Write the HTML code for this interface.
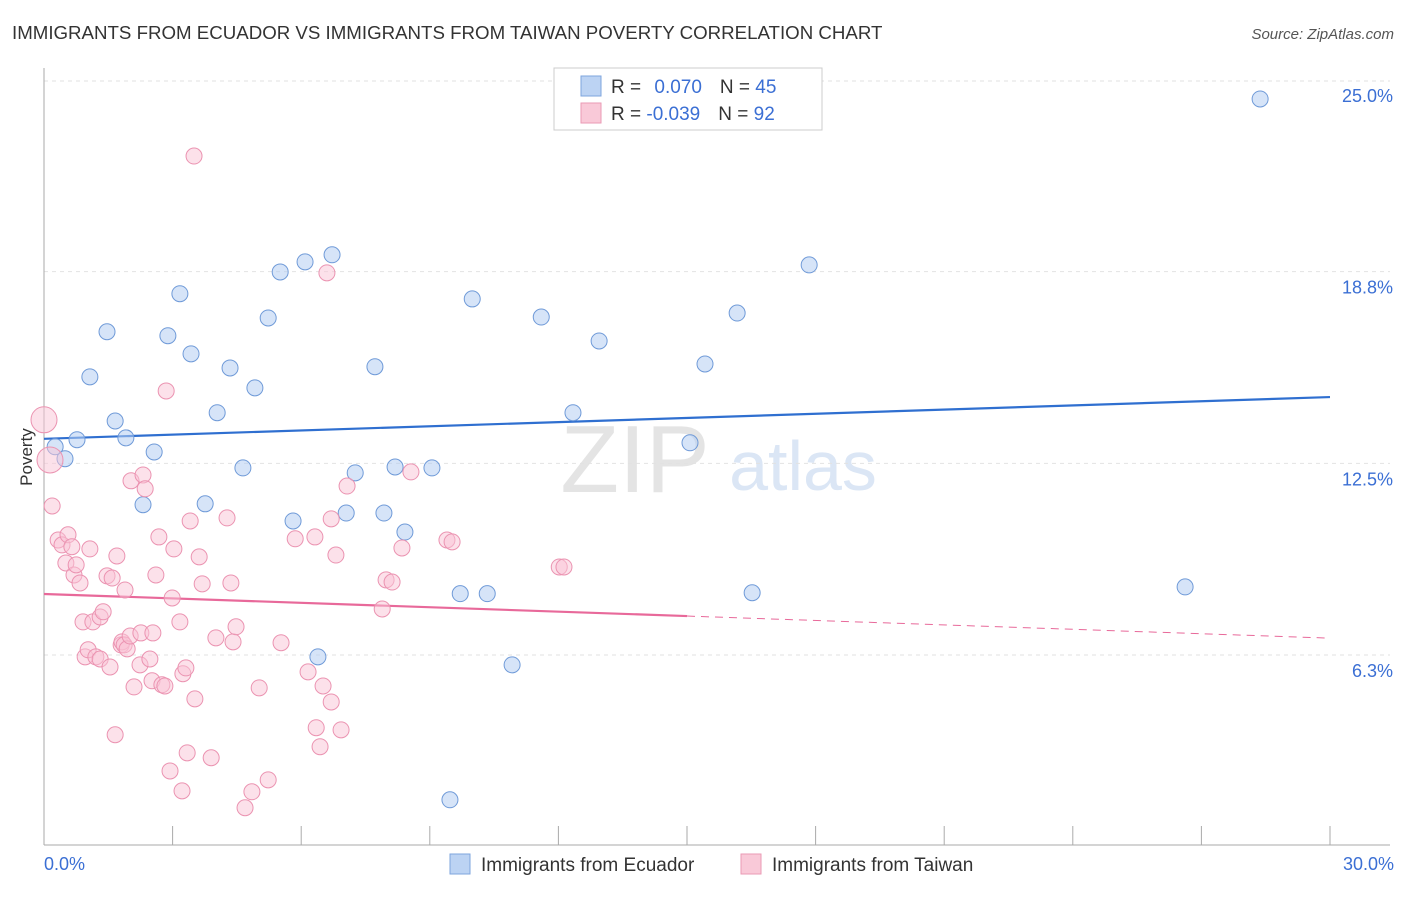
<!DOCTYPE html>
<html><head><meta charset="utf-8"><style>
body{margin:0;background:#fff;font-family:"Liberation Sans",sans-serif;}
svg text{font-family:"Liberation Sans",sans-serif;}
</style></head><body>
<svg id="chart" width="1406" height="892" xmlns="http://www.w3.org/2000/svg">
<text x="12" y="39" font-size="18.7" fill="#333">IMMIGRANTS FROM ECUADOR VS IMMIGRANTS FROM TAIWAN POVERTY CORRELATION CHART</text>
<text x="1394" y="39" font-size="15" fill="#555" font-style="italic" text-anchor="end">Source: ZipAtlas.com</text>
<text x="32" y="457" font-size="17" fill="#333" text-anchor="middle" transform="rotate(-90 32 457)">Poverty</text>
<text x="635" y="492" font-size="96" fill="#e4e4e4" font-family="Liberation Serif" text-anchor="middle">ZIP</text>
<text x="803" y="490" font-size="70" fill="#dbe6f5" text-anchor="middle">atlas</text>
<g id="grid"></g><g id="axes"></g><g id="trend"></g><g id="pts"></g>
<g>
<rect x="554" y="68" width="268" height="62" fill="#fff" stroke="#ccc"/>
<rect x="581" y="76" width="20" height="20" fill="#bcd3f3" stroke="#7ea4de"/>
<rect x="581" y="103" width="20" height="20" fill="#f9c9d8" stroke="#ea9ab4"/>
<text x="611" y="93" font-size="19" fill="#333">R = <tspan fill="#3b6fd4" dx="8">0.070</tspan><tspan dx="18" fill="#333">N = </tspan><tspan fill="#3b6fd4">45</tspan></text>
<text x="611" y="120" font-size="19" fill="#333">R = <tspan fill="#3b6fd4">-0.039</tspan><tspan dx="18" fill="#333">N = </tspan><tspan fill="#3b6fd4">92</tspan></text>
</g>
<g>
<rect x="450" y="854" width="20" height="20" fill="#bcd3f3" stroke="#7ea4de"/>
<text x="481" y="871" font-size="19" fill="#333">Immigrants from Ecuador</text>
<rect x="741" y="854" width="20" height="20" fill="#f9c9d8" stroke="#ea9ab4"/>
<text x="772" y="871" font-size="19" fill="#333">Immigrants from Taiwan</text>
</g>
</svg>
<script>
const yTicks=[25.0,18.8,12.5,6.3];
const yTickVals=[25,18.75,12.5,6.25];
const xTicks=[0,3,6,9,12,15,18,21,24,27,30];
const ecuX=[0.26,0.49,0.77,1.07,1.47,1.66,1.91,2.31,2.57,2.89,3.17,3.43,3.76,4.04,4.34,4.64,4.92,5.23,5.51,5.81,6.09,6.39,6.72,7.05,7.26,7.72,7.93,8.19,8.42,9.05,9.47,9.71,9.99,10.34,10.92,11.6,12.34,12.95,15.07,15.42,16.17,16.52,17.85,26.62,28.37];
const ecuY=[13.04,12.65,13.27,15.32,16.79,13.88,13.33,11.15,12.87,16.66,18.03,16.07,11.18,14.15,15.61,12.35,14.96,17.24,18.74,10.62,19.07,6.19,19.3,10.88,12.19,15.65,10.88,12.38,10.26,12.35,1.53,8.25,17.86,8.25,5.93,17.27,14.15,16.49,13.17,15.74,17.4,8.28,18.97,8.47,24.38];
const twX=[0,0.14,0.19,0.33,0.42,0.51,0.56,0.65,0.7,0.75,0.84,0.91,0.96,1.03,1.07,1.14,1.21,1.31,1.31,1.38,1.47,1.54,1.59,1.66,1.7,1.8,1.82,1.87,1.89,1.94,2.01,2.03,2.1,2.24,2.26,2.31,2.36,2.47,2.52,2.54,2.61,2.68,2.75,2.82,2.85,2.94,2.99,3.03,3.17,3.22,3.24,3.31,3.34,3.41,3.5,3.52,3.62,3.69,3.9,4.01,4.27,4.36,4.41,4.48,4.69,4.85,5.02,5.23,5.53,5.86,6.16,6.32,6.35,6.44,6.51,6.6,6.7,6.7,6.81,6.93,7.07,7.89,7.98,8.12,8.35,8.56,9.4,9.52,12.02,12.13];
const twY=[13.92,12.61,11.11,10.0,9.84,9.25,10.17,9.78,8.86,9.19,8.6,7.33,6.19,6.42,9.71,7.33,6.19,7.49,6.12,7.66,8.83,5.86,8.76,3.65,9.48,6.58,6.68,6.58,8.37,6.45,6.87,11.93,5.21,5.93,6.97,12.12,11.67,6.12,5.41,6.97,8.86,10.1,5.28,5.24,14.86,2.47,8.11,9.71,7.33,1.82,5.64,5.83,3.06,10.62,22.52,4.82,9.45,8.57,2.9,6.81,10.72,8.6,6.68,7.17,1.27,1.79,5.18,2.18,6.65,10.04,5.7,10.1,3.88,3.26,5.24,18.71,4.72,10.69,9.51,3.81,11.76,7.75,8.7,8.63,9.74,12.22,10.0,9.94,9.12,9.12];
const ecuTrend=[13.3,14.66];
const twTrend=[8.24,6.8];
const twSolidEnd=15;
const bigTw=[0,1];

const NS='http://www.w3.org/2000/svg';
const X0=44,X1=1330,Y0=846.7,PXY=30.67;
const sx=v=>X0+(X1-X0)*v/30;
const sy=v=>Y0-v*PXY;
function mk(tag,attrs,parent){const e=document.createElementNS(NS,tag);for(const k in attrs)e.setAttribute(k,attrs[k]);document.getElementById(parent).appendChild(e);return e;}
yTickVals.forEach((v,i)=>{
 const gy=sy(v)+(i==0?1:0);
 const l=mk('line',{x1:X0,x2:X1+60,y1:gy,y2:gy,stroke:'#e2e2e2','stroke-dasharray':'4,4'},'grid');
 
 
 const t=mk('text',{x:1393,y:sy(v)+22,'font-size':18,fill:'#3b6fd4','text-anchor':'end'},'grid');
 t.textContent=yTicks[i].toFixed(1)+'%';
 
 
});
const ax=mk('line',{x1:X0,x2:X1+60,y1:845,y2:845,stroke:'#aaa'},'axes');


const ay=mk('line',{x1:X0,x2:X0,y1:68,y2:845,stroke:'#aaa'},'axes');


xTicks.forEach(v=>{
 const t=mk('line',{x1:sx(v),x2:sx(v),y1:826,y2:845,stroke:'#aaa'},'axes');
 
 
});
const xl0=mk('text',{x:44,y:870,'font-size':18,fill:'#3b6fd4'},'axes');xl0.textContent=xTicks[0].toFixed(1)+'%';


const xl1=mk('text',{x:1394,y:870,'font-size':18,fill:'#3b6fd4','text-anchor':'end'},'axes');xl1.textContent=xTicks[xTicks.length-1].toFixed(1)+'%';



ecuX.forEach((x,i)=>{
 const c=mk('circle',{cx:sx(x),cy:sy(ecuY[i]),r:8,fill:'rgba(180,205,243,0.55)',stroke:'#6f9ad8','stroke-width':1},'pts');
 
 
});
twX.forEach((x,i)=>{
 const c=mk('circle',{cx:sx(x),cy:sy(twY[i]),r:bigTw.includes(i)?13:8,fill:'rgba(249,195,213,0.5)',stroke:'#eb93b1','stroke-width':1},'pts');
 
 
});
const tb=mk('line',{x1:sx(0),y1:sy(ecuTrend[0]),x2:sx(30),y2:sy(ecuTrend[1]),stroke:'#2f6fd0','stroke-width':2.2},'trend');


const tm=twTrend[0]+(twTrend[1]-twTrend[0])*twSolidEnd/30;
const tp=mk('line',{x1:sx(0),y1:sy(twTrend[0]),x2:sx(twSolidEnd),y2:sy(tm),stroke:'#e8699a','stroke-width':2.2},'trend');


const td=mk('line',{x1:sx(twSolidEnd),y1:sy(tm),x2:sx(30),y2:sy(twTrend[1]),stroke:'#e8699a','stroke-width':1,'stroke-dasharray':'8,6'},'trend');


</script>
</body></html>
